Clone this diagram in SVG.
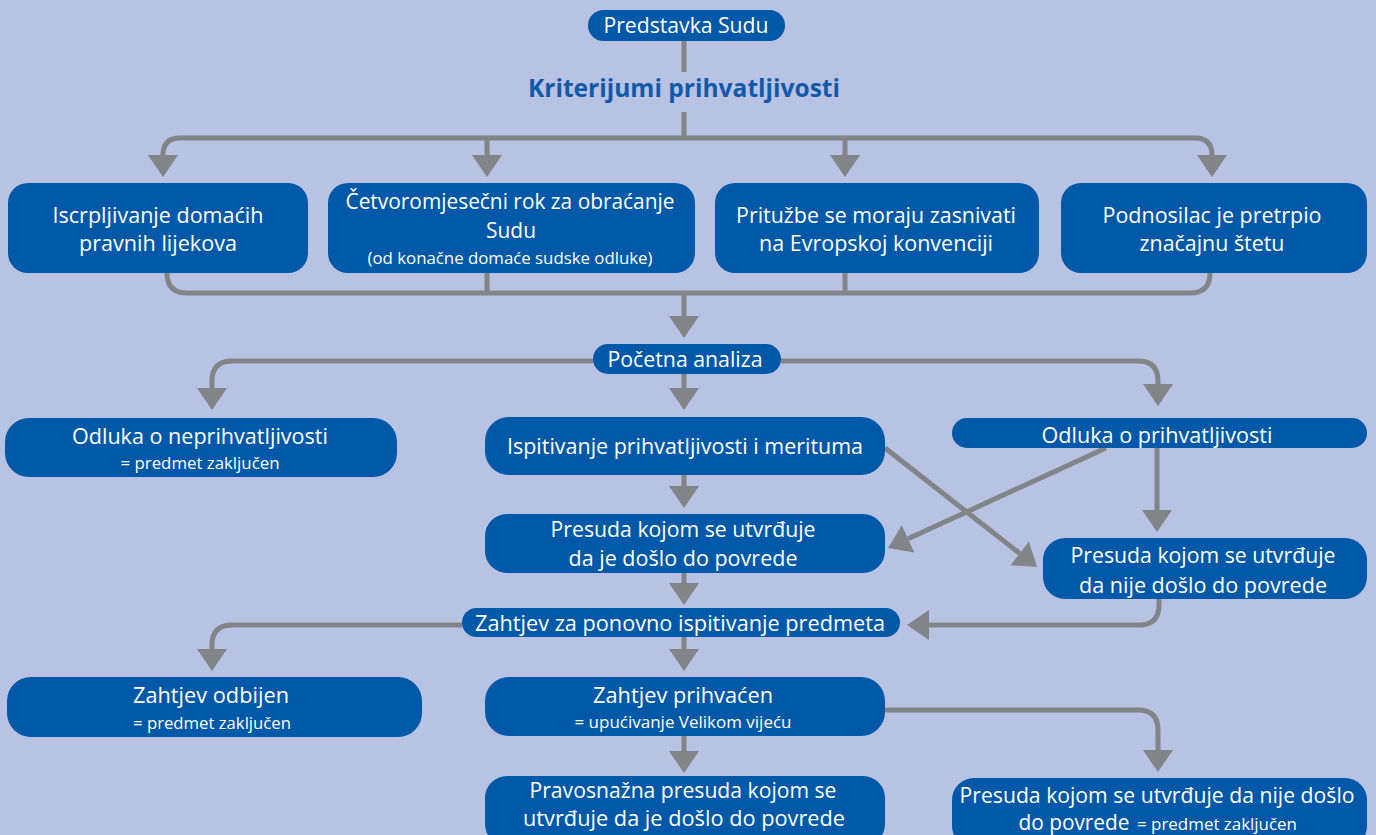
<svg xmlns="http://www.w3.org/2000/svg" width="1376" height="835" viewBox="0 0 1376 835">
<style>
.bg{fill:#b8c2e2}
.box{fill:#0058a8}
.t{font-family:"Open Sans","Noto Sans",sans-serif;font-size:22.5px;fill:#ffffff;text-anchor:middle}
.s{font-family:"Open Sans","Noto Sans",sans-serif;font-size:16px;fill:#ffffff;text-anchor:middle}
.title{font-family:"Open Sans","Noto Sans",sans-serif;font-size:25px;font-weight:bold;fill:#1259a8;text-anchor:middle}
.c{fill:none;stroke:#838488;stroke-width:5}
.a{fill:none;stroke:#838488;stroke-width:5;marker-end:url(#ah)}
</style>
<defs>
<marker id="ah" markerUnits="userSpaceOnUse" markerWidth="22" markerHeight="30" refX="0" refY="15" orient="auto" overflow="visible">
<path d="M0,0 L22,15 L0,30 z" fill="#838488"/>
</marker>
</defs>
<rect class="bg" x="0" y="0" width="1376" height="835"/>
<g id="connectors">
<path class="c" d="M684,40 V72"/>
<path class="c" d="M684,112 V138"/>
<path class="a" d="M684,138 H180 Q163,138 163,155"/>
<path class="a" d="M684,138 H1195 Q1212,138 1212,155"/>
<path class="a" d="M487,138 V155"/>
<path class="a" d="M845,138 V155"/>
<path class="c" d="M167,273 Q167,293 187,293 H1190 Q1210,293 1210,273"/>
<path class="c" d="M487,273 V293"/>
<path class="c" d="M845,273 V293"/>
<path class="a" d="M684,293 V316"/>
<path class="a" d="M593,361 H232 Q212,361 212,381 V388"/>
<path class="a" d="M781,361 H1138 Q1158,361 1158,381 V384"/>
<path class="a" d="M684,374 V388"/>
<path class="a" d="M684,475 V486"/>
<path class="a" d="M885,448 L1019.7,553.4"/>
<path class="a" d="M1106,448 L908,538.8"/>
<path class="a" d="M1157,448 V510"/>
<path class="a" d="M684,573 V583"/>
<path class="a" d="M1159,599 V605 Q1159,625 1139,625 H929"/>
<path class="a" d="M462,625 H232 Q212,625 212,645 V649"/>
<path class="a" d="M684,637 V649"/>
<path class="a" d="M885,710 H1138 Q1158,710 1158,730 V750"/>
<path class="a" d="M684,736 V751"/>
</g>
<g id="predstavka">
<rect class="box" x="588" y="10" width="197" height="31" rx="15.5"/>
<text class="t" x="686" y="33" textLength="165" lengthAdjust="spacingAndGlyphs">Predstavka Sudu</text>
</g>
<g id="kriterijumi">
<text class="title" x="684" y="97" textLength="312" lengthAdjust="spacingAndGlyphs">Kriterijumi prihvatljivosti</text>
</g>
<g id="iscrpljivanje">
<rect class="box" x="8" y="183" width="300" height="90" rx="20"/>
<text class="t" x="158" y="223" textLength="211" lengthAdjust="spacingAndGlyphs">Iscrpljivanje domaćih</text>
<text class="t" x="158" y="251" textLength="158" lengthAdjust="spacingAndGlyphs">pravnih lijekova</text>
</g>
<g id="rok">
<rect class="box" x="328" y="183" width="367" height="90" rx="20"/>
<text class="t" x="510" y="209" textLength="329" lengthAdjust="spacingAndGlyphs">Četvoromjesečni rok za obraćanje</text>
<text class="t" x="511" y="238" textLength="50" lengthAdjust="spacingAndGlyphs">Sudu</text>
<text class="s" x="510" y="264" textLength="285" lengthAdjust="spacingAndGlyphs">(od konačne domaće sudske odluke)</text>
</g>
<g id="prituzbe">
<rect class="box" x="715" y="183" width="324" height="90" rx="20"/>
<text class="t" x="876" y="223" textLength="280" lengthAdjust="spacingAndGlyphs">Pritužbe se moraju zasnivati</text>
<text class="t" x="876" y="251" textLength="234" lengthAdjust="spacingAndGlyphs">na Evropskoj konvenciji</text>
</g>
<g id="podnosilac">
<rect class="box" x="1061" y="183" width="306" height="90" rx="20"/>
<text class="t" x="1212" y="223" textLength="219" lengthAdjust="spacingAndGlyphs">Podnosilac je pretrpio</text>
<text class="t" x="1212" y="251" textLength="145" lengthAdjust="spacingAndGlyphs">značajnu štetu</text>
</g>
<g id="pocetna">
<rect class="box" x="593" y="344" width="188" height="30" rx="15"/>
<text class="t" x="685" y="367" textLength="155" lengthAdjust="spacingAndGlyphs">Početna analiza</text>
</g>
<g id="neprihvatljivost">
<rect class="box" x="5" y="418" width="392" height="59" rx="24"/>
<text class="t" x="200" y="444" textLength="256" lengthAdjust="spacingAndGlyphs">Odluka o neprihvatljivosti</text>
<text class="s" x="200" y="469" textLength="159" lengthAdjust="spacingAndGlyphs">= predmet zaključen</text>
</g>
<g id="ispitivanje">
<rect class="box" x="485" y="417" width="400" height="58" rx="24"/>
<text class="t" x="685" y="454" textLength="356" lengthAdjust="spacingAndGlyphs">Ispitivanje prihvatljivosti i merituma</text>
</g>
<g id="prihvatljivost">
<rect class="box" x="952" y="418" width="415" height="30" rx="15"/>
<text class="t" x="1157" y="443" textLength="231" lengthAdjust="spacingAndGlyphs">Odluka o prihvatljivosti</text>
</g>
<g id="presuda-povreda">
<rect class="box" x="485" y="514" width="400" height="59" rx="22"/>
<text class="t" x="683" y="537" textLength="265" lengthAdjust="spacingAndGlyphs">Presuda kojom se utvrđuje</text>
<text class="t" x="683" y="566" textLength="229" lengthAdjust="spacingAndGlyphs">da je došlo do povrede</text>
</g>
<g id="presuda-bez-povrede">
<rect class="box" x="1043" y="538" width="324" height="61" rx="22"/>
<text class="t" x="1203" y="563" textLength="265" lengthAdjust="spacingAndGlyphs">Presuda kojom se utvrđuje</text>
<text class="t" x="1203" y="593" textLength="248" lengthAdjust="spacingAndGlyphs">da nije došlo do povrede</text>
</g>
<g id="zahtjev">
<rect class="box" x="462" y="608" width="438" height="29" rx="14.5"/>
<text class="t" x="680" y="631" textLength="410" lengthAdjust="spacingAndGlyphs">Zahtjev za ponovno ispitivanje predmeta</text>
</g>
<g id="odbijen">
<rect class="box" x="7" y="677" width="415" height="60" rx="24"/>
<text class="t" x="211" y="703" textLength="156" lengthAdjust="spacingAndGlyphs">Zahtjev odbijen</text>
<text class="s" x="212" y="729" textLength="158" lengthAdjust="spacingAndGlyphs">= predmet zaključen</text>
</g>
<g id="prihvacen">
<rect class="box" x="485" y="677" width="400" height="59" rx="24"/>
<text class="t" x="683" y="703" textLength="180" lengthAdjust="spacingAndGlyphs">Zahtjev prihvaćen</text>
<text class="s" x="683" y="728" textLength="217" lengthAdjust="spacingAndGlyphs">= upućivanje Velikom vijeću</text>
</g>
<g id="pravosnazna">
<rect class="box" x="485" y="776" width="400" height="70" rx="22"/>
<text class="t" x="683" y="798" textLength="307" lengthAdjust="spacingAndGlyphs">Pravosnažna presuda kojom se</text>
<text class="t" x="684" y="826" textLength="322" lengthAdjust="spacingAndGlyphs">utvrđuje da je došlo do povrede</text>
</g>
<g id="konacna-bez-povrede">
<rect class="box" x="952" y="778" width="415" height="70" rx="22"/>
<text class="t" x="1157" y="803" textLength="395" lengthAdjust="spacingAndGlyphs">Presuda kojom se utvrđuje da nije došlo</text>
<text class="t" x="1074" y="830" textLength="111" lengthAdjust="spacingAndGlyphs">do povrede</text>
<text class="s" x="1217" y="830" textLength="160" lengthAdjust="spacingAndGlyphs">= predmet zaključen</text>
</g>
</svg>
